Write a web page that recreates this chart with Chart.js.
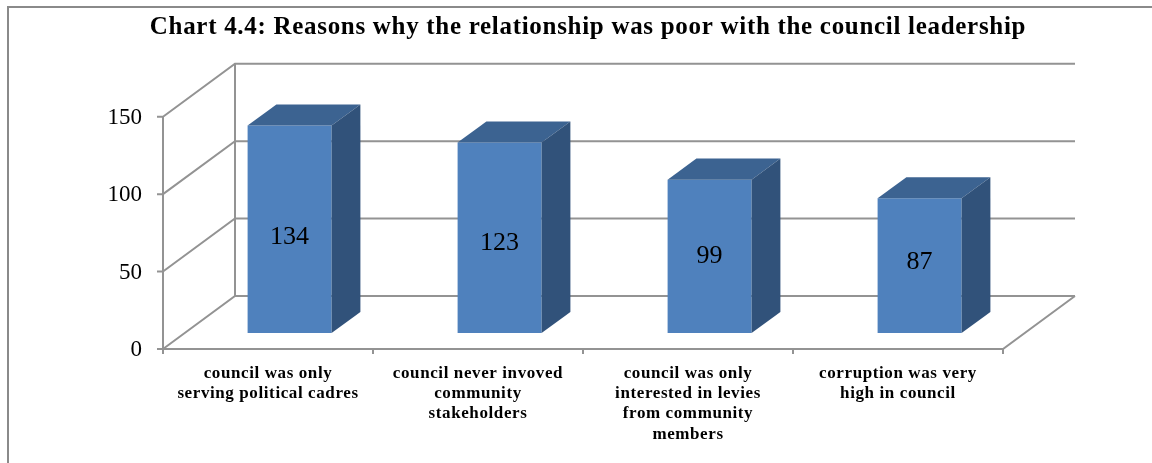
<!DOCTYPE html>
<html><head><meta charset="utf-8">
<script src="https://cdn.jsdelivr.net/npm/chart.js@4/dist/chart.umd.min.js"></script>
<style>html,body{margin:0;padding:0;background:#fff;overflow:hidden;}#wrap{position:relative;width:1152px;height:463px;}</style>
</head><body><div id="wrap"><canvas id="c" width="1152" height="463"></canvas></div>
<script>
const chartTitle = 'Chart 4.4: Reasons why the relationship was poor with the council leadership';
const categories = [
  ['council was only', 'serving political cadres'],
  ['council never invoved', 'community', 'stakeholders'],
  ['council was only', 'interested in levies', 'from community', 'members'],
  ['corruption was very', 'high in council']
];
const values = [134, 123, 99, 87];
const yTicks = [0, 50, 100, 150];

const SERIF = "'Liberation Serif', 'Times New Roman', serif";
const WALL_DX = 72, WALL_DY = -53;      // depth of the floor / back wall
const BAR_F = 0.3, BAR_B = 0.7;         // bar front/back depth fractions
const GRID = '#939393';

function withSpacing(obj, fn, spacing) {
  const orig = obj[fn].bind(obj);
  obj[fn] = function (...args) {
    const ctx = obj.ctx;
    const prev = ctx.letterSpacing;
    ctx.letterSpacing = spacing;
    try { return orig(...args); } finally { ctx.letterSpacing = prev || '0px'; }
  };
}

const threeD = {
  id: 'threeD',
  afterLayout(chart) {
    if (chart.$patched) return;
    chart.$patched = true;
    if (chart.scales.x) withSpacing(chart.scales.x, 'drawLabels', '0.6px');
    if (chart.titleBlock) withSpacing(chart.titleBlock, 'draw', '0.7px');
  },
  beforeDraw(chart) {
    const ctx = chart.ctx;
    ctx.save();
    ctx.strokeStyle = '#8a8a8a';
    ctx.lineWidth = 2;
    ctx.beginPath();
    ctx.moveTo(8, 470); ctx.lineTo(8, 7); ctx.lineTo(1160, 7);
    ctx.stroke();
    ctx.restore();
  },
  beforeDatasetsDraw(chart) {
    const ctx = chart.ctx, a = chart.chartArea, y = chart.scales.y;
    ctx.save();
    ctx.strokeStyle = GRID;
    ctx.lineWidth = 2;
    ctx.beginPath();
    yTicks.forEach(v => {
      const py = y.getPixelForValue(v);
      ctx.moveTo(a.left, py);
      ctx.lineTo(a.left + WALL_DX, py + WALL_DY);
      ctx.lineTo(a.right + WALL_DX, py + WALL_DY);
      ctx.moveTo(a.left - 6, py); ctx.lineTo(a.left, py);
    });
    const yb = y.getPixelForValue(0), yt = y.getPixelForValue(150);
    ctx.moveTo(a.left + WALL_DX, yt + WALL_DY); ctx.lineTo(a.left + WALL_DX, yb + WALL_DY);
    ctx.moveTo(a.left, yt); ctx.lineTo(a.left, yb);
    ctx.lineTo(a.right, yb); ctx.lineTo(a.right + WALL_DX, yb + WALL_DY);
    const n = categories.length;
    for (let i = 0; i <= n; i++) {
      const px = a.left + i * (a.right - a.left) / n;
      ctx.moveTo(px, yb); ctx.lineTo(px, yb + 5);
    }
    ctx.stroke();
    ctx.restore();
    ctx.save();
    ctx.translate(WALL_DX * BAR_F, WALL_DY * BAR_F);
  },
  afterDatasetsDraw(chart) {
    const ctx = chart.ctx;
    const ddx = WALL_DX * (BAR_B - BAR_F), ddy = WALL_DY * (BAR_B - BAR_F);
    const meta = chart.getDatasetMeta(0);
    meta.data.forEach((bar, i) => {
      const p = bar.getProps(['x', 'y', 'base', 'width'], true);
      const l = p.x - p.width / 2, r = p.x + p.width / 2;
      ctx.fillStyle = '#3c6391';
      ctx.beginPath();
      ctx.moveTo(l, p.y); ctx.lineTo(l + ddx, p.y + ddy); ctx.lineTo(r + ddx, p.y + ddy); ctx.lineTo(r, p.y);
      ctx.closePath(); ctx.fill();
      ctx.fillStyle = '#31527a';
      ctx.beginPath();
      ctx.moveTo(r, p.y); ctx.lineTo(r + ddx, p.y + ddy); ctx.lineTo(r + ddx, p.base + ddy); ctx.lineTo(r, p.base);
      ctx.closePath(); ctx.fill();
      const h = p.base - p.y;
      ctx.fillStyle = '#000';
      ctx.font = '26px ' + SERIF;
      ctx.textAlign = 'center';
      ctx.textBaseline = 'middle';
      ctx.fillText(String(values[i]), p.x, (p.y + p.base) / 2 + 2 + (h - 171) * 0.15);
    });
    ctx.restore();
  }
};

new Chart(document.getElementById('c'), {
  type: 'bar',
  data: {
    labels: categories,
    datasets: [{
      data: values,
      backgroundColor: '#4f81bd',
      borderWidth: 0,
      categoryPercentage: 1,
      barPercentage: 0.4
    }]
  },
  options: {
    responsive: false,
    animation: false,
    devicePixelRatio: 1,
    layout: { padding: { left: 24, right: 0, top: 0, bottom: 0 } },
    plugins: {
      legend: { display: false },
      tooltip: { enabled: false },
      title: {
        display: true,
        text: chartTitle,
        color: '#000',
        font: { family: SERIF, size: 25, weight: 'bold', lineHeight: 1.2 },
        padding: { top: 13, bottom: 73.7 }
      }
    },
    scales: {
      x: {
        grid: { display: false, drawTicks: false },
        border: { display: false },
        ticks: {
          color: '#000',
          font: { family: SERIF, size: 17, weight: 'bold', lineHeight: 1.2 },
          padding: 14,
          maxRotation: 0,
          autoSkip: false
        },
        afterFit(s) { s.height = 114; }
      },
      y: {
        min: 0, max: 150,
        grid: { display: false, drawTicks: false },
        border: { display: false },
        ticks: {
          stepSize: 50,
          color: '#000',
          font: { family: SERIF, size: 23 },
          padding: 21,
          labelOffset: 1
        },
        afterFit(s) { s.width = 139; }
      },
      yRight: {
        type: 'linear',
        position: 'right',
        display: true,
        grid: { display: false, drawTicks: false },
        border: { display: false },
        ticks: { display: false },
        afterFit(s) { s.width = 149; }
      }
    }
  },
  plugins: [threeD]
});
</script>
</body></html>
